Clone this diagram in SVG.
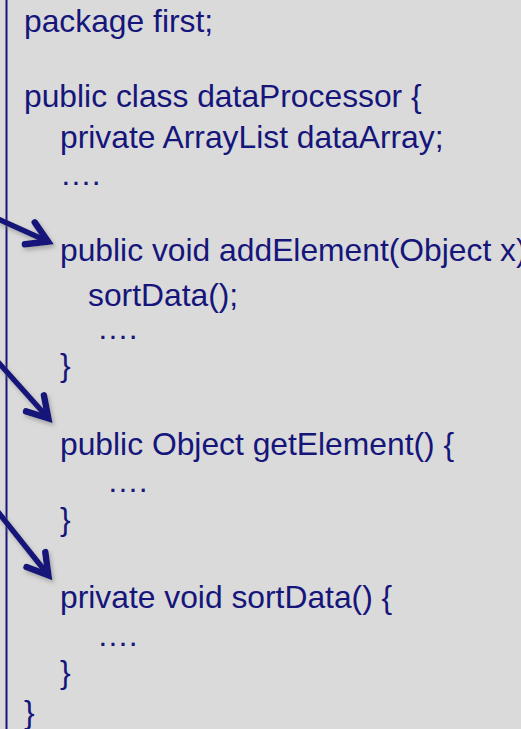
<svg xmlns="http://www.w3.org/2000/svg" width="521" height="729" viewBox="0 0 521 729">
  <style>
    .code { font-family: "Liberation Sans", Arial, sans-serif; font-size: 31.8px; fill: #15157a; }
    .pointer { fill: none; stroke: #15157a; stroke-width: 5.5; stroke-linecap: butt; }
  </style>
  <defs>
    <filter id="softShadow" x="-30%" y="-30%" width="160%" height="160%">
      <feDropShadow dx="2" dy="3" stdDeviation="2" flood-color="#808080" flood-opacity="0.55"/>
    </filter>
    <marker id="chevron" markerUnits="userSpaceOnUse" markerWidth="34" markerHeight="34" viewBox="-28 -17 34 34" refX="0" refY="0" orient="auto">
      <path d="M -21 -12 L -1 0 L -21 12" fill="none" stroke="#15157a" stroke-width="6.5" stroke-linejoin="miter" stroke-linecap="round"/>
    </marker>
  </defs>

  <!-- slide background and left rule -->
  <rect x="0" y="0" width="521" height="729" fill="#dadada"/>
  <line x1="6.5" y1="0" x2="6.5" y2="729" stroke="#15157a" stroke-width="2"/>

  <!-- source listing -->
  <g id="listing">
    <text class="code" x="24" y="32">package first;</text>
    <text class="code" x="24" y="107">public class dataProcessor {</text>
    <text class="code" x="60" y="148">private ArrayList dataArray;</text>
    <text class="code" x="60" y="185">….</text>
  </g>

  <g id="method-addElement">
    <text class="code" x="60" y="261">public void addElement(Object x)</text>
    <text class="code" x="88" y="306">sortData();</text>
    <text class="code" x="97" y="339">….</text>
    <text class="code" x="60" y="376">}</text>
  </g>

  <g id="method-getElement">
    <text class="code" x="60" y="455">public Object getElement() {</text>
    <text class="code" x="107" y="492">….</text>
    <text class="code" x="60" y="530">}</text>
  </g>

  <g id="method-sortData">
    <text class="code" x="60" y="608">private void sortData() {</text>
    <text class="code" x="97" y="646">….</text>
    <text class="code" x="60" y="683">}</text>
  </g>

  <g id="class-end">
    <text class="code" x="24" y="723">}</text>
  </g>

  <!-- pointers into each method -->
  <g id="connectors" filter="url(#softShadow)">
    <line class="pointer" x1="-2" y1="219" x2="49" y2="242" marker-end="url(#chevron)"/>
    <line class="pointer" x1="-2" y1="362" x2="49" y2="419" marker-end="url(#chevron)"/>
    <line class="pointer" x1="-2" y1="512" x2="49" y2="576" marker-end="url(#chevron)"/>
  </g>
</svg>
